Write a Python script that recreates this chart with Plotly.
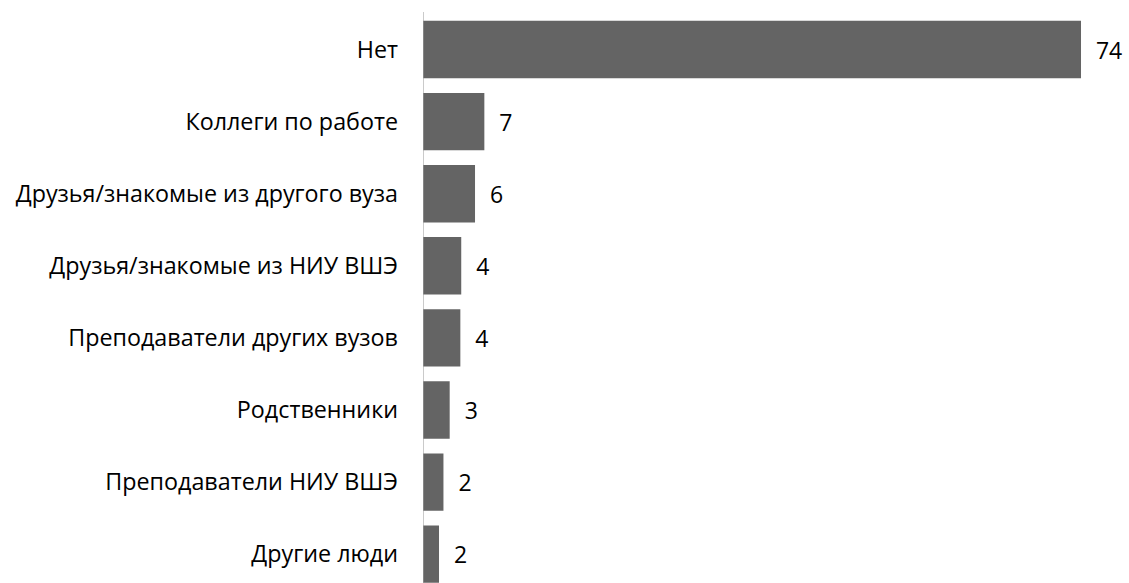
import plotly.graph_objects as go

categories = ["Нет", "Коллеги по работе", "Друзья/знакомые из другого вуза",
              "Друзья/знакомые из НИУ ВШЭ", "Преподаватели других вузов",
              "Родственники", "Преподаватели НИУ ВШЭ", "Другие люди"]
values = [74, 6.9, 5.85, 4.3, 4.2, 3.0, 2.3, 1.8]
labels = [f"{round(v):d}" for v in values]

W, H = 1129, 583
L = 423
FONT = "Open Sans, Liberation Sans, sans-serif"
fig = go.Figure()
fig.add_trace(go.Bar(
    y=categories, x=values, orientation="h",
    marker=dict(color="#646464", line=dict(width=0)),
    text=["\u00a0\u00a0" + t for t in labels],
    textposition="outside", cliponaxis=False,
    textfont=dict(family=FONT, size=23, color="#000000"),
    width=0.796,
))
fig.add_shape(type="line", xref="x", yref="paper", x0=-0.05, x1=-0.05, y0=0, y1=1 - 12 / H,
              line=dict(color="#a0a0a0", width=2))
fig.update_layout(
    width=W, height=H,
    margin=dict(l=L, r=0, t=0, b=0),
    paper_bgcolor="white", plot_bgcolor="white",
    showlegend=False,
    font=dict(family=FONT, size=23, color="#000000"),
    xaxis=dict(range=[0, (W - L) / 8.892], showgrid=False, zeroline=False,
               showticklabels=False, showline=False, ticks=""),
    yaxis=dict(range=[7.40, -0.687], showgrid=False, zeroline=False, showline=False,
               ticks="", ticklabelstandoff=24, automargin=False,
               tickfont=dict(family=FONT, size=23.3, color="#000000")),
)
fig.write_html("out.html", config={"displayModeBar": False},
               post_script="document.body.style.margin='0';document.body.style.overflow='hidden';")
